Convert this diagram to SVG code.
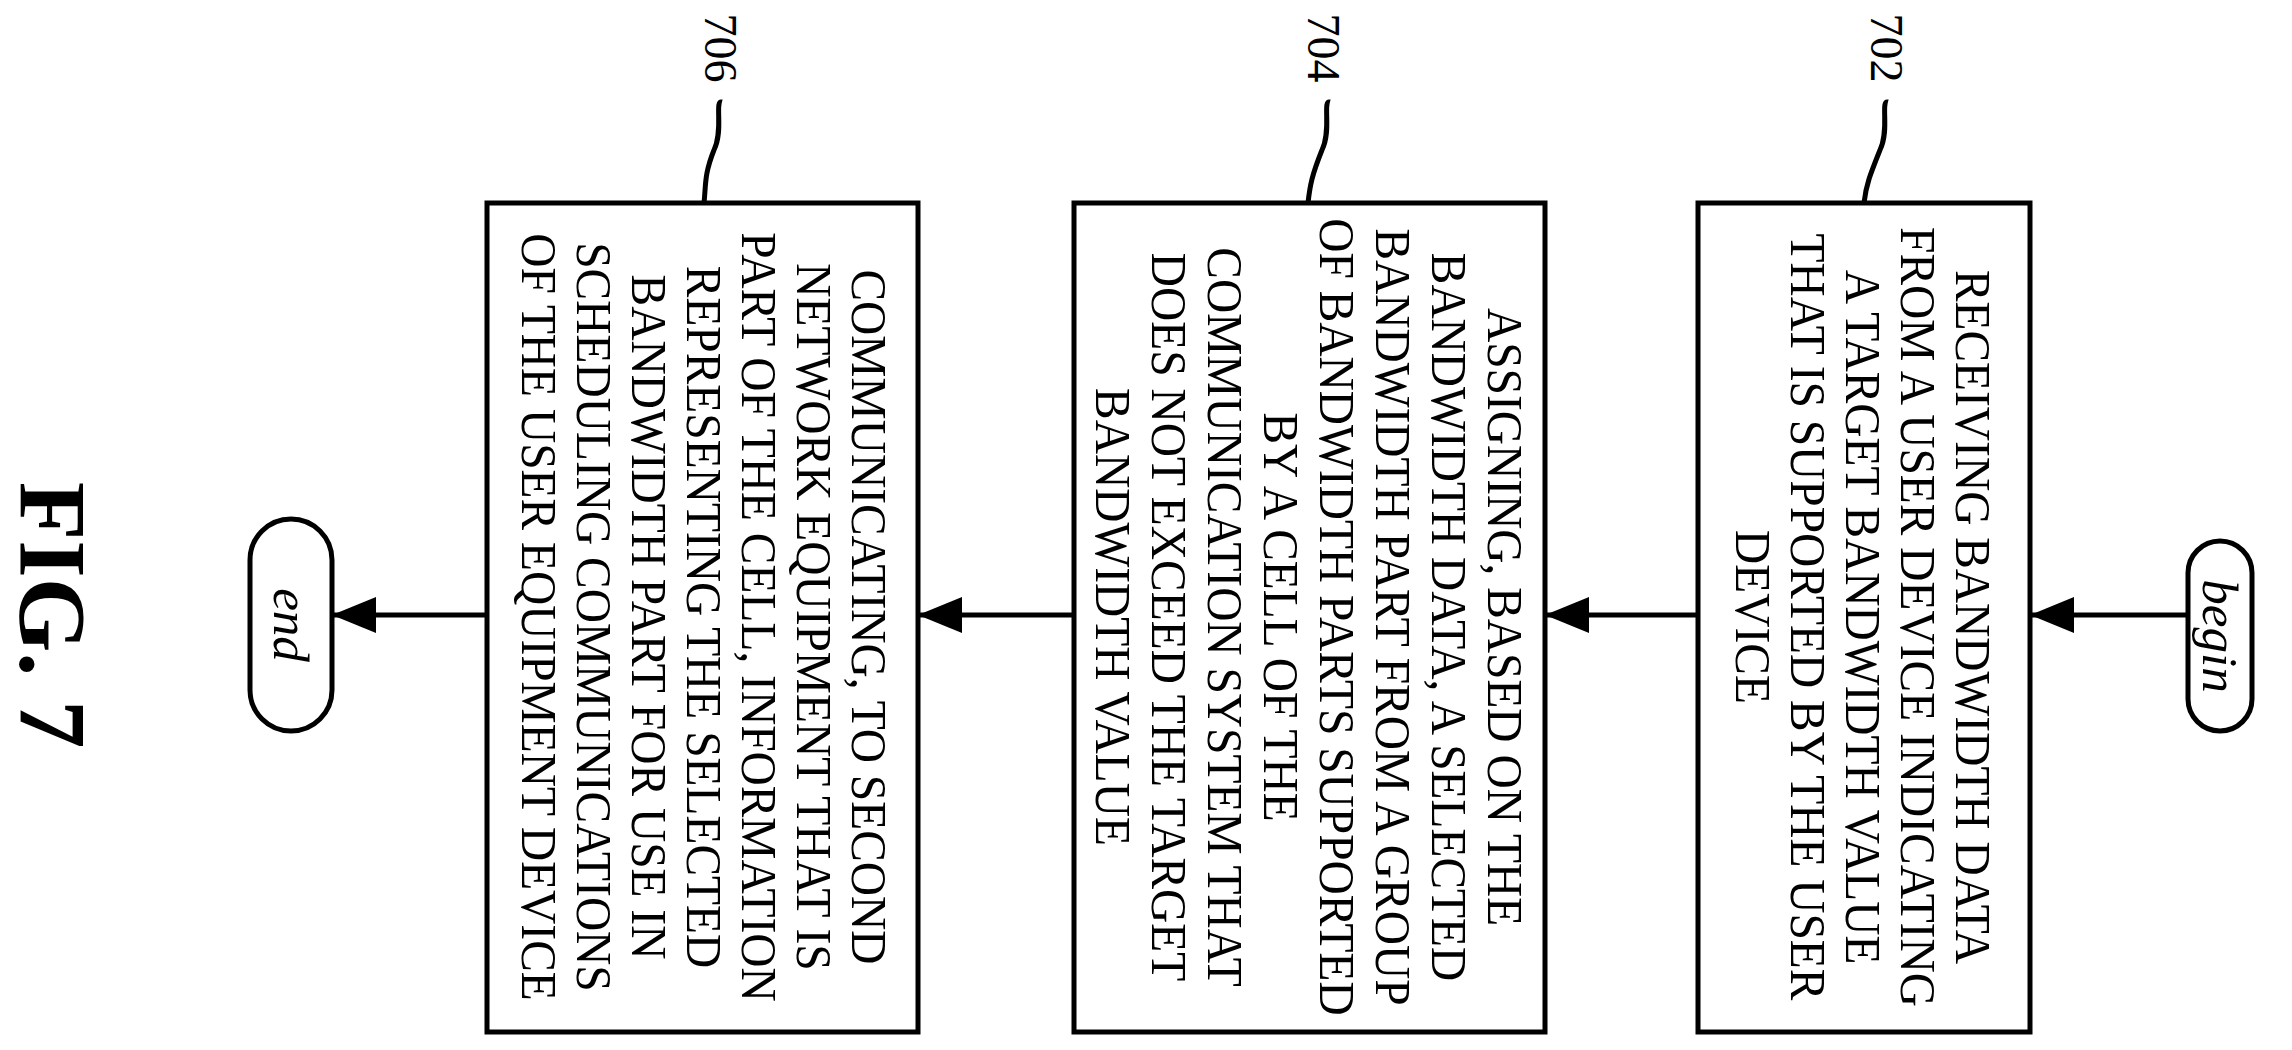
<svg xmlns="http://www.w3.org/2000/svg" width="2292" height="1050" viewBox="0 0 2292 1050">
<style>
.box{fill:#fff;stroke:#000;stroke-width:5}
.t{font-family:"Liberation Serif",serif;font-size:51px;text-anchor:middle;dominant-baseline:central}
.c{stroke:#000;stroke-width:5;fill:none}
.lbl{font-family:"Liberation Serif",serif;font-size:46px;text-anchor:middle;dominant-baseline:central}
</style>
<defs><marker id="ah" markerWidth="44" markerHeight="36" refX="42" refY="18" orient="auto" markerUnits="userSpaceOnUse"><path d="M0,0 L44,18 L0,36 Z" fill="#000"/></marker></defs>
<rect width="2292" height="1050" fill="#fff"/>
<g id="begin"><rect class="box" x="2188" y="541" width="64" height="190" rx="32"/><text class="t" font-style="italic" transform="translate(2220,636) rotate(90)" font-size="44">begin</text></g>
<g id="n702"><rect class="box" x="1698" y="203" width="332" height="829"/>
<text class="t" transform="translate(1864,617) rotate(90) scale(0.93,1)"><tspan x="0" y="-110">RECEIVING BANDWIDTH DATA</tspan><tspan x="0" y="-55">FROM A USER DEVICE INDICATING</tspan><tspan x="0" y="0">A TARGET BANDWIDTH VALUE</tspan><tspan x="0" y="55">THAT IS SUPPORTED BY THE USER</tspan><tspan x="0" y="110">DEVICE</tspan></text>
<text class="lbl" transform="translate(1886,48) rotate(90)">702</text></g>
<g id="n704"><rect class="box" x="1074" y="203" width="471" height="829"/>
<text class="t" transform="translate(1310,617) rotate(90) scale(0.93,1)"><tspan x="0" y="-196">ASSIGNING, BASED ON THE</tspan><tspan x="0" y="-140">BANDWIDTH DATA, A SELECTED</tspan><tspan x="0" y="-84">BANDWIDTH PART FROM A GROUP</tspan><tspan x="0" y="-28">OF BANDWIDTH PARTS SUPPORTED</tspan><tspan x="0" y="28">BY A CELL OF THE</tspan><tspan x="0" y="84">COMMUNICATION SYSTEM THAT</tspan><tspan x="0" y="140">DOES NOT EXCEED THE TARGET</tspan><tspan x="0" y="196">BANDWIDTH VALUE</tspan></text>
<text class="lbl" transform="translate(1323,48) rotate(90)">704</text></g>
<g id="n706"><rect class="box" x="487" y="203" width="431" height="829"/>
<text class="t" transform="translate(705,617) rotate(90) scale(0.93,1)"><tspan x="0" y="-165">COMMUNICATING, TO SECOND</tspan><tspan x="0" y="-110">NETWORK EQUIPMENT THAT IS</tspan><tspan x="0" y="-55">PART OF THE CELL, INFORMATION</tspan><tspan x="0" y="0">REPRESENTING THE SELECTED</tspan><tspan x="0" y="55">BANDWIDTH PART FOR USE IN</tspan><tspan x="0" y="110">SCHEDULING COMMUNICATIONS</tspan><tspan x="0" y="165">OF THE USER EQUIPMENT DEVICE</tspan></text>
<text class="lbl" transform="translate(720,48) rotate(90)">706</text></g>
<g id="end"><rect class="box" x="250" y="519" width="82" height="212" rx="41"/><text class="t" font-style="italic" transform="translate(291,625) rotate(90)" font-size="44">end</text></g>
<g id="fig"><text font-family="Liberation Serif,serif" font-weight="bold" font-size="96" text-anchor="middle" dominant-baseline="central" transform="translate(52,615) rotate(90)">FIG. 7</text></g>
<g id="connectors">
<line class="c" x1="2188" y1="615" x2="2032" y2="615" marker-end="url(#ah)"/>
<line class="c" x1="1698" y1="615" x2="1547" y2="615" marker-end="url(#ah)"/>
<line class="c" x1="1074" y1="615" x2="920" y2="615" marker-end="url(#ah)"/>
<line class="c" x1="487" y1="615" x2="334" y2="615" marker-end="url(#ah)"/>
<path class="c" d="M1888,102 C1880,100 1890,130 1880,150 C1870,175 1866,185 1864,203"/>
<path class="c" d="M1330,102 C1322,100 1332,130 1322,150 C1312,175 1310,185 1308,203"/>
<path class="c" d="M722,102 C714,100 724,130 714,150 C704,175 706,185 704,203"/>
</g>
</svg>
